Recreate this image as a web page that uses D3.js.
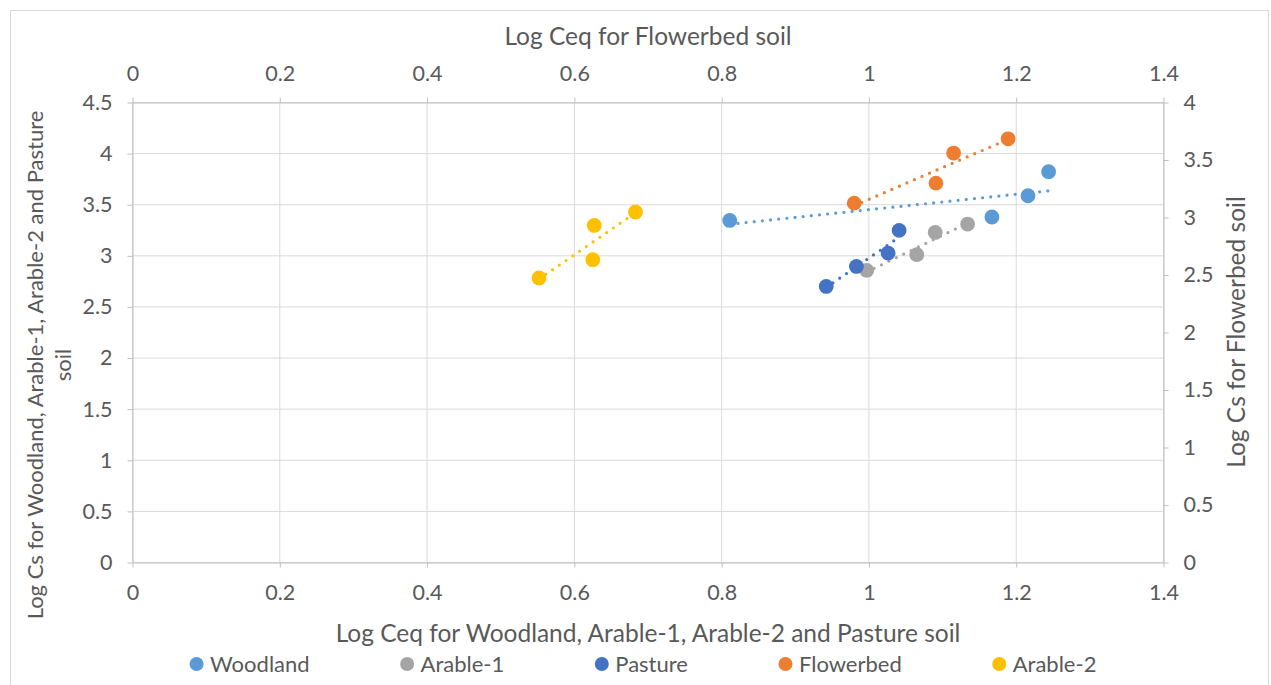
<!DOCTYPE html>
<html>
<head>
<meta charset="utf-8">
<script src="https://cdn.jsdelivr.net/npm/d3@7"></script>
<style>
  html, body { margin: 0; padding: 0; background: #ffffff; }
  svg { display: block; }
  text { font-family: Lato, "Open Sans", "Liberation Sans", sans-serif; fill: #595959; }
</style>
</head>
<body>
<svg id="chart" width="1271" height="685"></svg>
<script>
// Log Ceq / Log Cs pairs for each soil
const woodlandX  = [0.811, 1.167, 1.216, 1.244];
const woodlandY  = [3.346, 3.380, 3.588, 3.823];
const arable1X   = [0.997, 1.065, 1.090, 1.134];
const arable1Y   = [2.857, 3.011, 3.229, 3.311];
const pastureX   = [0.942, 0.983, 1.026, 1.041];
const pastureY   = [2.701, 2.896, 3.027, 3.249];
const flowerbedX = [0.980, 1.091, 1.115, 1.189];   // plotted on the top / right axes
const flowerbedY = [3.125, 3.299, 3.560, 3.684];
const arable2X   = [0.552, 0.627, 0.625, 0.683];
const arable2Y   = [2.783, 3.297, 2.962, 3.429];

const seriesNames = ["Woodland", "Arable-1", "Pasture", "Flowerbed", "Arable-2"];
const seriesColors = ["#5B9BD5", "#A5A5A5", "#4472C4", "#ED7D31", "#FFC000"];

const xTicks  = [0, 0.2, 0.4, 0.6, 0.8, 1, 1.2, 1.4];
const yTicks  = [0, 0.5, 1, 1.5, 2, 2.5, 3, 3.5, 4, 4.5];
const y2Ticks = [0, 0.5, 1, 1.5, 2, 2.5, 3, 3.5, 4];

const titleTop    = "Log Ceq for Flowerbed soil";
const titleBottom = "Log Ceq for Woodland, Arable-1, Arable-2 and Pasture soil";
const titleLeft   = ["Log Cs for Woodland, Arable-1, Arable-2 and Pasture", "soil"];
const titleRight  = "Log Cs for Flowerbed soil";

const series = [
  { name: seriesNames[0], color: seriesColors[0], xs: woodlandX,  ys: woodlandY,  secondary: false },
  { name: seriesNames[1], color: seriesColors[1], xs: arable1X,   ys: arable1Y,   secondary: false },
  { name: seriesNames[2], color: seriesColors[2], xs: pastureX,   ys: pastureY,   secondary: false },
  { name: seriesNames[3], color: seriesColors[3], xs: flowerbedX, ys: flowerbedY, secondary: true  },
  { name: seriesNames[4], color: seriesColors[4], xs: arable2X,   ys: arable2Y,   secondary: false }
];

const svg = d3.select("#chart");
const W = 1271, H = 685;
const plot = { left: 132.5, right: 1163.5, top: 102.5, bottom: 562.5 };

// Chart frame
svg.append("rect")
  .attr("x", 10.5).attr("y", 10.5)
  .attr("width", 1258).attr("height", H)
  .attr("fill", "#ffffff").attr("stroke", "#d9d9d9").attr("stroke-width", 1);

const x  = d3.scaleLinear().domain([0, 1.4]).range([plot.left, plot.right]);
const x2 = d3.scaleLinear().domain([0, 1.4]).range([plot.left, plot.right]);
const y  = d3.scaleLinear().domain([0, 4.5]).range([plot.bottom, plot.top]);
const y2 = d3.scaleLinear().domain([0, 4]).range([plot.bottom, plot.top]);

const fmt = d => String(+d.toFixed(1));

// Gridlines
const grid = svg.append("g").attr("stroke", "#d9d9d9").attr("stroke-width", 1);
grid.selectAll("line.v").data(xTicks).join("line")
  .attr("x1", d => x(d)).attr("x2", d => x(d))
  .attr("y1", plot.top).attr("y2", plot.bottom);
grid.selectAll("line.h").data(yTicks).join("line")
  .attr("x1", plot.left).attr("x2", plot.right)
  .attr("y1", d => y(d)).attr("y2", d => y(d));

// Axes
const tickFont = "21.5px";
function styleAxis(g) {
  g.select(".domain").attr("stroke", "#bfbfbf");
  g.selectAll(".tick line").attr("stroke", "#bfbfbf");
  g.selectAll(".tick text").attr("fill", "#595959")
    .style("font-family", "Lato, 'Open Sans', sans-serif").style("font-size", tickFont);
}
svg.append("g").attr("transform", `translate(0,${plot.bottom})`)
  .call(d3.axisBottom(x).tickValues(xTicks).tickFormat(fmt).tickSizeInner(5).tickSizeOuter(0).tickPadding(17))
  .call(styleAxis);
svg.append("g").attr("transform", `translate(0,${plot.top})`)
  .call(d3.axisTop(x2).tickValues(xTicks).tickFormat(fmt).tickSizeInner(5).tickSizeOuter(0).tickPadding(17))
  .call(styleAxis);
svg.append("g").attr("transform", `translate(${plot.left},0)`)
  .call(d3.axisLeft(y).tickValues(yTicks).tickFormat(fmt).tickSizeInner(5).tickSizeOuter(0).tickPadding(15))
  .call(styleAxis);
svg.append("g").attr("transform", `translate(${plot.right},0)`)
  .call(d3.axisRight(y2).tickValues(y2Ticks).tickFormat(fmt).tickSizeInner(5).tickSizeOuter(0).tickPadding(15))
  .call(styleAxis);

// Linear trendlines (least squares), spanning each series' x range
function fit(xs, ys) {
  const n = xs.length;
  const mx = d3.mean(xs), my = d3.mean(ys);
  let sxy = 0, sxx = 0;
  for (let i = 0; i < n; i++) { sxy += (xs[i] - mx) * (ys[i] - my); sxx += (xs[i] - mx) ** 2; }
  const b = sxy / sxx, a = my - b * mx;
  return xv => a + b * xv;
}

const trend = svg.append("g");
series.forEach(s => {
  const f = fit(s.xs, s.ys);
  const [lo, hi] = d3.extent(s.xs);
  const sx = s.secondary ? x2 : x, sy = s.secondary ? y2 : y;
  trend.append("line")
    .attr("x1", sx(lo)).attr("y1", sy(f(lo)))
    .attr("x2", sx(hi)).attr("y2", sy(f(hi)))
    .attr("stroke", s.color).attr("stroke-width", 3.2)
    .attr("stroke-linecap", "round").attr("stroke-dasharray", "0 8.2");
});

// Markers
const marks = svg.append("g");
series.forEach(s => {
  const sx = s.secondary ? x2 : x, sy = s.secondary ? y2 : y;
  marks.append("g").selectAll("circle")
    .data(s.xs.map((v, i) => [v, s.ys[i]]))
    .join("circle")
    .attr("cx", d => sx(d[0])).attr("cy", d => sy(d[1]))
    .attr("r", 7.4).attr("fill", s.color);
});

// Axis titles
const cx = (plot.left + plot.right) / 2;
svg.append("text").attr("x", cx).attr("y", 45).attr("text-anchor", "middle")
  .style("font-size", "24.5px").text(titleTop);
svg.append("text").attr("x", cx).attr("y", 642).attr("text-anchor", "middle")
  .style("font-size", "24.5px").text(titleBottom);

const lt = svg.append("text").attr("transform", "translate(0,365) rotate(-90)")
  .attr("text-anchor", "middle").style("font-size", "22px");
lt.append("tspan").attr("x", 0).attr("y", 43).text(titleLeft[0]);
lt.append("tspan").attr("x", 0).attr("y", 71).text(titleLeft[1]);

svg.append("text").attr("transform", "translate(1245,332) rotate(-90)")
  .attr("text-anchor", "middle").style("font-size", "24.5px").text(titleRight);

// Legend: entries laid out left to right, centred under the plot
const legend = svg.append("g");
const items = legend.selectAll("g").data(series).join("g");
items.append("circle").attr("r", 7).attr("cx", 7).attr("cy", 0).attr("fill", d => d.color);
items.append("text").attr("x", 20.5).attr("dy", "0.35em").style("font-size", "22px").text(d => d.name);
const gap = 90.5;
let widths = [];
items.each(function () { widths.push(20.5 + d3.select(this).select("text").node().getComputedTextLength()); });
const total = d3.sum(widths) + gap * (widths.length - 1);
let pos = 643 - total / 2;
items.each(function (d, i) {
  d3.select(this).attr("transform", `translate(${pos},664)`);
  pos += widths[i] + gap;
});
</script>
</body>
</html>
